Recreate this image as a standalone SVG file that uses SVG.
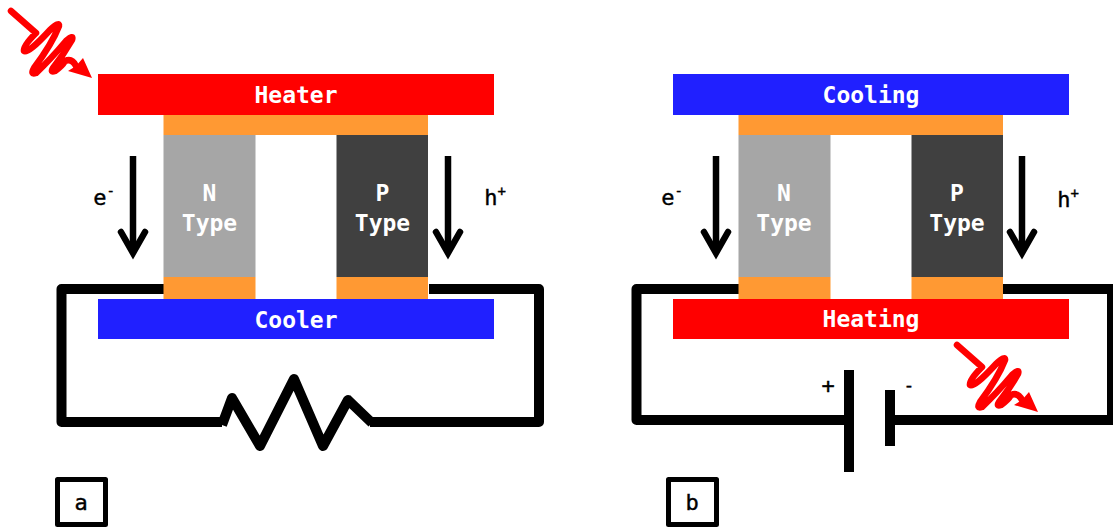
<svg xmlns="http://www.w3.org/2000/svg" width="1113" height="527" viewBox="0 0 1113 527">
<style>
text{font-family:"DejaVu Sans Mono","Liberation Mono",monospace;text-anchor:middle}
.w{fill:#fff;font-weight:bold;font-size:23px}
.k{fill:#000;font-size:22px;stroke:#000;stroke-width:.4}
.blue{fill:#2020ff}.red{fill:#f00}.or{fill:#f93}.n{fill:#a6a6a6}.p{fill:#404040}
.wire{fill:none;stroke:#000;stroke-width:10;stroke-linejoin:round}
.arr{fill:none;stroke:#000;stroke-width:6.500;stroke-linecap:round;stroke-linejoin:miter}
.ph{fill:none;stroke:#f00;stroke-width:6.500;stroke-linejoin:round;stroke-linecap:round}
</style>
<defs>
<g id="photon"><path class="ph" d="M11 11L36 33Q23 46 24 51Q28 54 50 30Q60 21 59 26Q52 44 34 68Q30 75 36 73Q50 60 66 41Q74 34 72 40Q64 54 53 68Q50 73 55 71Q62 66 65 61Q72 58 76 66L80 69"/><path d="M92 78L68 71L76 66L83 58Z" fill="#f00"/></g>
<g id="down"><path d="M133 156V252" stroke="#000" stroke-width="6.500" fill="none"/><path class="arr" d="M121 232L133 253L145 232"/></g>
</defs>
<g id="connectors">
<path class="wire" d="M164 289H61.500V422H222"/>
<path class="wire" d="M429 289H539V422H370"/>
<path class="wire" d="M222 425L232 398L260 446L294 379L323 446L348 400L372 423"/>
<path class="wire" d="M739 289H636.500V420H849"/>
<path class="wire" d="M1003 289H1112V420H890"/>
</g>
<g id="panel-a">
<g id="heater"><rect class="red" x="98" y="74" width="396" height="41"/><text class="w" x="296" y="103">Heater</text></g>
<g id="top-contact-a"><rect class="or" x="163.500" y="115" width="264.500" height="20"/></g>
<g id="n-type-a"><rect class="n" x="163.500" y="135" width="92" height="142"/><text class="w" x="209.500" y="201">N</text><text class="w" x="209.500" y="231">Type</text></g>
<g id="p-type-a"><rect class="p" x="336.500" y="135" width="91.500" height="142"/><text class="w" x="382.500" y="201">P</text><text class="w" x="382.500" y="231">Type</text></g>
<g id="contacts-a"><rect class="or" x="163.500" y="277" width="92" height="22"/><rect class="or" x="336.500" y="277" width="91.500" height="22"/></g>
<g id="cooler"><rect class="blue" x="98" y="299" width="396" height="40"/><text class="w" x="296" y="328">Cooler</text></g>
<g id="photon-a"><use href="#photon"/></g>
<g id="electron-a"><use href="#down"/><text class="k" x="104" y="205">e<tspan font-size="14" dy="-9">-</tspan></text></g>
<g id="hole-a"><use href="#down" x="315"/><text class="k" x="495" y="205">h<tspan font-size="14" dy="-9">+</tspan></text></g>
<g id="label-a"><rect x="57.500" y="479.500" width="48" height="45" fill="#fff" stroke="#000" stroke-width="5" stroke-linejoin="round"/><text class="k" x="81" y="510">a</text></g>
</g>
<g id="panel-b">
<g id="cooling"><rect class="blue" x="673" y="74" width="396" height="41"/><text class="w" x="871" y="103">Cooling</text></g>
<g id="top-contact-b"><rect class="or" x="738.500" y="115" width="264.500" height="20"/></g>
<g id="n-type-b"><rect class="n" x="738.500" y="135" width="92" height="142"/><text class="w" x="784" y="201">N</text><text class="w" x="784" y="231">Type</text></g>
<g id="p-type-b"><rect class="p" x="911.500" y="135" width="91.500" height="142"/><text class="w" x="957" y="201">P</text><text class="w" x="957" y="231">Type</text></g>
<g id="contacts-b"><rect class="or" x="738.500" y="277" width="92" height="22"/><rect class="or" x="911.500" y="277" width="91.500" height="22"/></g>
<g id="heating"><rect class="red" x="673" y="299" width="396" height="40"/><text class="w" x="871" y="327">Heating</text></g>
<g id="photon-b"><use href="#photon" x="946" y="334"/></g>
<g id="electron-b"><use href="#down" x="583"/><text class="k" x="672" y="205">e<tspan font-size="14" dy="-9">-</tspan></text></g>
<g id="hole-b"><use href="#down" x="889"/><text class="k" x="1068" y="207">h<tspan font-size="14" dy="-9">+</tspan></text></g>
<g id="battery"><rect x="844" y="370" width="10" height="102" fill="#000"/><rect x="885" y="390" width="10" height="56" fill="#000"/><text class="k" x="828" y="393">+</text><text class="k" x="909" y="391" style="font-size:18px">-</text></g>
<g id="label-b"><rect x="668.500" y="479.500" width="48" height="45" fill="#fff" stroke="#000" stroke-width="5" stroke-linejoin="round"/><text class="k" x="692" y="510">b</text></g>
</g>
</svg>
